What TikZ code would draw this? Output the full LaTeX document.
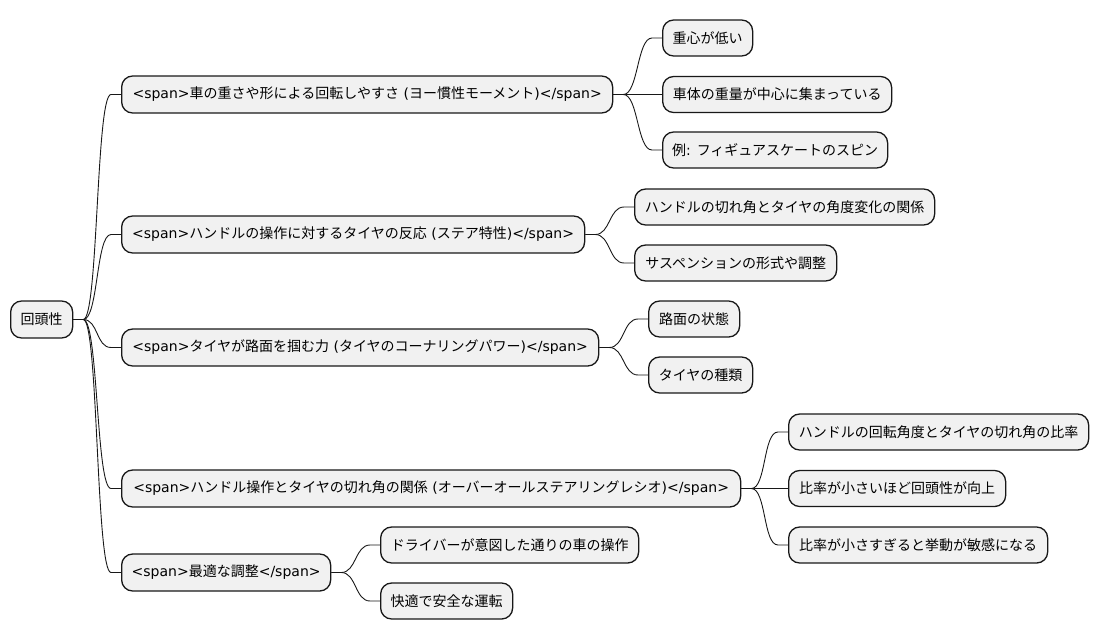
\documentclass[tikz,border=0pt]{standalone}
\usepackage{fontspec}
\setmainfont{Noto Sans CJK JP}
\newfontfamily\dv{DejaVu Sans}
\newcommand\lt[1]{{\dv #1}}
\usetikzlibrary{calc}
\definecolor{boxfill}{HTML}{F1F1F1}
\definecolor{boxline}{HTML}{181818}
\tikzset{
  box/.style={draw=boxline, fill=boxfill, line width=1.3pt, rounded corners=11pt,
    anchor=west, inner xsep=0pt, inner ysep=0pt, minimum height=37pt,
    font=\fontsize{14pt}{16pt}\selectfont, text=black},
  leaf/.style={box, minimum height=36pt},
  conn/.style={draw=boxline, line width=0.9pt}
}
\newcommand\mmconn[2]{\draw[conn] (#1.east) -- ++(10,0) .. controls +(15,0) and +(-15,0) .. ($(#2.west)+(-10,0)$) -- (#2.west);}
\begin{document}
\begin{tikzpicture}[x=1pt,y=-1pt]
\useasboundingbox (0,0) rectangle (1099,640);
\node[box, minimum width=62pt] (root) at (10,319.5) {回頭性};
\node[box, minimum width=491pt] (a) at (121,94.5) {\lt{<span>}車の重さや形による回転しやすさ\lt{ (}ヨー慣性モーメント\lt{)</span>}};
\node[leaf, minimum width=90pt] (a1) at (662,38) {重心が低い};
\node[leaf, minimum width=229pt] (a2) at (662,94.5) {車体の重量が中心に集まっている};
\node[leaf, minimum width=225pt] (a3) at (662,150) {例\lt{: }フィギュアスケートのスピン};
\node[box, minimum width=463pt] (b) at (121,234.5) {\lt{<span>}ハンドルの操作に対するタイヤの反応\lt{ (}ステア特性\lt{)</span>}};
\node[leaf, minimum width=300pt] (b1) at (634,207) {ハンドルの切れ角とタイヤの角度変化の関係};
\node[leaf, minimum width=202pt] (b2) at (634,263) {サスペンションの形式や調整};
\node[box, minimum width=477pt] (c) at (121,347.5) {\lt{<span>}タイヤが路面を掴む力\lt{ (}タイヤのコーナリングパワー\lt{)</span>}};
\node[leaf, minimum width=91pt] (c1) at (648,319) {路面の状態};
\node[leaf, minimum width=104pt] (c2) at (648,375) {タイヤの種類};
\node[box, minimum width=619pt] (d) at (121,488.5) {\lt{<span>}ハンドル操作とタイヤの切れ角の関係\lt{ (}オーバーオールステアリングレシオ\lt{)</span>}};
\node[leaf, minimum width=300pt] (d1) at (788,432) {ハンドルの回転角度とタイヤの切れ角の比率};
\node[leaf, minimum width=217pt] (d2) at (788,488.5) {比率が小さいほど回頭性が向上};
\node[leaf, minimum width=259pt] (d3) at (788,545) {比率が小さすぎると挙動が敏感になる};
\node[box, minimum width=209pt] (e) at (121,572.5) {\lt{<span>}最適な調整\lt{</span>}};
\node[leaf, minimum width=258pt] (e1) at (380,545) {ドライバーが意図した通りの車の操作};
\node[leaf, minimum width=132pt] (e2) at (380,601) {快適で安全な運転};
\mmconn{root}{a}
\mmconn{root}{b}
\mmconn{root}{c}
\mmconn{root}{d}
\mmconn{root}{e}
\mmconn{a}{a1}
\mmconn{a}{a2}
\mmconn{a}{a3}
\mmconn{b}{b1}
\mmconn{b}{b2}
\mmconn{c}{c1}
\mmconn{c}{c2}
\mmconn{d}{d1}
\mmconn{d}{d2}
\mmconn{d}{d3}
\mmconn{e}{e1}
\mmconn{e}{e2}
\end{tikzpicture}
\end{document}
